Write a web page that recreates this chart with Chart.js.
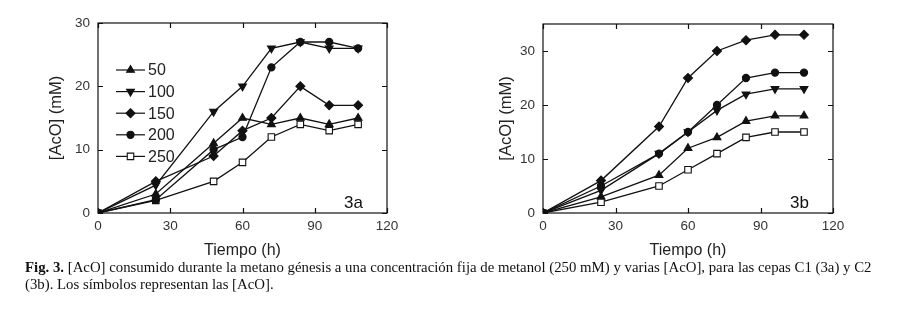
<!DOCTYPE html>
<html><head><meta charset="utf-8">
<script src="https://cdn.jsdelivr.net/npm/chart.js@4.4.1/dist/chart.umd.min.js"></script>
<style>
html,body{margin:0;padding:0;background:#fff;width:909px;height:324px;overflow:hidden;}
#ca{position:absolute;left:0;top:0;}
#cb{position:absolute;left:450px;top:0;}
#cap{position:absolute;left:25px;top:259px;width:880px;font-family:'Liberation Serif','Times New Roman',serif;font-size:14.8px;line-height:17px;color:#111;white-space:nowrap;}
</style></head><body>
<canvas id="ca" width="450" height="260"></canvas>
<canvas id="cb" width="459" height="260"></canvas>
<div id="cap"><b>Fig. 3.</b> [AcO] consumido durante la metano génesis a una concentración fija de metanol (250 mM) y varias [AcO], para las cepas C1 (3a) y C2<br>(3b). Los símbolos representan las [AcO].</div>
<script>
// ---- data ----
const hours = [0, 24, 48, 60, 72, 84, 96, 108];
const seriesLabels = ['50', '100', '150', '200', '250'];
const xTicks = [0, 30, 60, 90, 120];
const yTicks = [0, 10, 20, 30];
// panel 3a (cepa C1)
const a50  = [0, 3, 11, 15, 14, 15, 14, 15];
const a100 = [0, 4.4, 16, 20, 26, 27, 26, 26];
const a150 = [0, 5, 9, 13, 15, 20, 17, 17];
const a200 = [0, 2.1, 10, 12, 23, 27, 27, 26];
const a250 = [0, 2, 5, 8, 12, 14, 13, 14];
// panel 3b (cepa C2)
const b50  = [0, 3, 7, 12, 14, 17, 18, 18];
const b100 = [0, 4.2, 11, 15, 19, 22, 23, 23];
const b150 = [0, 6, 16, 25, 30, 32, 33, 33];
const b200 = [0, 5, 11, 15, 20, 25, 26, 26];
const b250 = [0, 2, 5, 8, 11, 14, 15, 15];

// ---- styles ----
const markerStyles = [
  {pointStyle: 'triangle', rotation: 0, radius: 4.5, fill: '#111'},
  {pointStyle: 'triangle', rotation: 180, radius: 4.5, fill: '#111'},
  {pointStyle: 'rectRot', rotation: 0, radius: 4.5, fill: '#111'},
  {pointStyle: 'circle', rotation: 0, radius: 3.6, fill: '#111'},
  {pointStyle: 'rect', rotation: 0, radius: 4.6, fill: '#fff'}
];
const FONT = "'Liberation Sans', Arial, sans-serif";

function drawMarker(ctx, st, x, y) {
  ctx.save();
  ctx.fillStyle = st.fill; ctx.strokeStyle = '#111'; ctx.lineWidth = 1.1;
  const r = st.radius;
  ctx.beginPath();
  if (st.pointStyle === 'circle') {
    ctx.arc(x, y, r, 0, Math.PI * 2);
  } else if (st.pointStyle === 'rect') {
    const s = r * Math.SQRT1_2; ctx.rect(x - s, y - s, 2 * s, 2 * s);
  } else if (st.pointStyle === 'rectRot') {
    ctx.moveTo(x, y - r); ctx.lineTo(x + r, y); ctx.lineTo(x, y + r); ctx.lineTo(x - r, y); ctx.closePath();
  } else {
    const sgn = st.rotation === 180 ? -1 : 1;
    const rad0 = -Math.PI / 2 * sgn;
    for (let k = 0; k < 3; k++) {
      const a = rad0 + k * 2 * Math.PI / 3;
      const px = x + Math.cos(a) * r, py = y + Math.sin(a) * r;
      k === 0 ? ctx.moveTo(px, py) : ctx.lineTo(px, py);
    }
    ctx.closePath();
  }
  ctx.fill(); ctx.stroke();
  ctx.restore();
}

const framePlugin = {
  id: 'frame',
  afterDraw(chart, args, opts) {
    const ctx = chart.ctx, ca = chart.chartArea;
    const xs = chart.scales.x, ys = chart.scales.y;
    ctx.save();
    ctx.strokeStyle = '#111'; ctx.lineWidth = 1.2;
    ctx.strokeRect(ca.left, ca.top, ca.right - ca.left, ca.bottom - ca.top);
    ctx.beginPath();
    xs.ticks.forEach(t => {
      const p = Math.round(xs.getPixelForValue(t.value)) + 0.5;
      ctx.moveTo(p, ca.bottom); ctx.lineTo(p, ca.bottom - 5);
      ctx.moveTo(p, ca.top); ctx.lineTo(p, ca.top + 5);
    });
    ys.ticks.forEach(t => {
      const p = Math.round(ys.getPixelForValue(t.value)) + 0.5;
      ctx.moveTo(ca.left, p); ctx.lineTo(ca.left + 5, p);
      ctx.moveTo(ca.right, p); ctx.lineTo(ca.right - 5, p);
    });
    ctx.stroke();
    // panel label
    ctx.fillStyle = '#111';
    ctx.font = '17px ' + FONT;
    ctx.textAlign = 'right'; ctx.textBaseline = 'middle';
    ctx.fillText(opts.panel, ca.right - 24, ca.bottom - 10);
    // legend inside plot
    if (opts.legend) {
      ctx.font = '16px ' + FONT;
      ctx.textAlign = 'left';
      chart.data.datasets.forEach((ds, i) => {
        const y = 70 + i * 21.6;
        ctx.strokeStyle = '#111'; ctx.lineWidth = 1.2;
        ctx.beginPath(); ctx.moveTo(116, y); ctx.lineTo(145, y); ctx.stroke();
        drawMarker(ctx, markerStyles[i], 130.5, y);
        ctx.fillStyle = '#222';
        ctx.fillText(ds.label, 148, y + 1);
      });
    }
    ctx.restore();
  }
};

function makeChart(id, seriesList, yMax, top, padRight, yWidth, panel, legend) {
  const datasets = seriesList.map((vals, i) => ({
    label: seriesLabels[i],
    data: hours.map((h, j) => ({x: h, y: vals[j]})),
    borderColor: '#111', borderWidth: 1.3,
    backgroundColor: markerStyles[i].fill,
    pointBackgroundColor: markerStyles[i].fill,
    pointBorderColor: '#111', pointBorderWidth: 1.1,
    pointStyle: markerStyles[i].pointStyle,
    pointRotation: markerStyles[i].rotation,
    pointRadius: markerStyles[i].radius,
    tension: 0, fill: false
  }));
  return new Chart(document.getElementById(id), {
    type: 'line',
    data: {datasets},
    options: {
      responsive: false, animation: false, devicePixelRatio: 1,
      layout: {padding: {left: 43, top: top, right: padRight, bottom: 0}},
      plugins: {legend: {display: false}, tooltip: {enabled: false}, frame: {panel, legend}},
      scales: {
        x: {
          type: 'linear', min: 0, max: 120,
          afterBuildTicks: s => { s.ticks = xTicks.map(v => ({value: v})); },
          afterFit: s => { s.height = 47; },
          grid: {display: false, drawTicks: false}, border: {display: false},
          ticks: {padding: 5, color: '#333', font: {family: FONT, size: 13.5}},
          title: {display: true, text: 'Tiempo (h)', color: '#222', font: {family: FONT, size: 16}, padding: {top: 4, bottom: 0}}
        },
        y: {
          type: 'linear', min: 0, max: yMax,
          afterBuildTicks: s => { s.ticks = yTicks.map(v => ({value: v})); },
          afterFit: s => { s.width = yWidth; },
          grid: {display: false, drawTicks: false}, border: {display: false},
          ticks: {padding: 8, color: '#333', font: {family: FONT, size: 13.5}},
          title: {display: true, text: '[AcO] (mM)', color: '#222', font: {family: FONT, size: 16.5}, padding: {top: 4, bottom: 0}}
        }
      }
    },
    plugins: [framePlugin]
  });
}

makeChart('ca', [a50, a100, a150, a200, a250], 30, 23, 63, 55, '3a', true);
makeChart('cb', [b50, b100, b150, b200, b250], 35, 24, 76, 50, '3b', false);
</script>
</body></html>
